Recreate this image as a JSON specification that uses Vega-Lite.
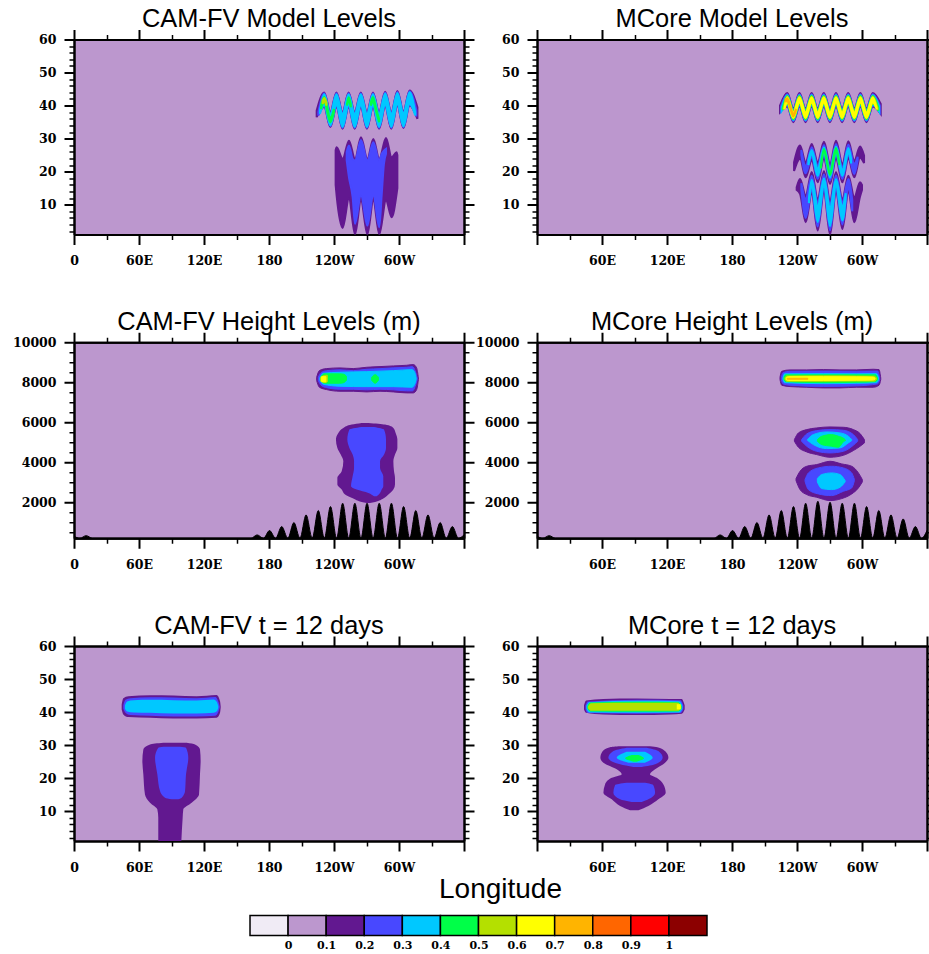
{"$schema":"https://vega.github.io/schema/vega-lite/v6.json","background":"white","padding":{"left":12,"top":6.5,"right":0,"bottom":0},"spacing":2,"resolve":{"scale":{"color":"independent"}},"config":{"view":{"fill":"#BC97CE","stroke":null},"font":"Liberation Sans","title":{"font":"Liberation Sans","fontSize":25.4,"fontWeight":"normal","color":"black","anchor":"middle","offset":-4},"axisBottom":{"labelPadding":10},"axis":{"grid":false,"title":null,"domainColor":"black","domainWidth":2,"tickColor":"black","labelColor":"black","labelFont":"DejaVu Serif","labelFontWeight":"bold","labelFontSize":12.5,"labelPadding":8,"labelOverlap":false,"labelFlush":false,"labelBound":false,"zindex":1}},
"datasets":{
"v":[
{"panel":"a","shape":"w","level":"0.1","lon":224,"lo":36.5,"hi":38.5},{"panel":"a","shape":"w","level":"0.1","lon":231,"lo":39.6,"hi":44},{"panel":"a","shape":"w","level":"0.1","lon":236.6,"lo":33.5,"hi":38},{"panel":"a","shape":"w","level":"0.1","lon":242.25,"lo":39.6,"hi":44},{"panel":"a","shape":"w","level":"0.1","lon":247.9,"lo":33,"hi":38},{"panel":"a","shape":"w","level":"0.1","lon":253.5,"lo":39.6,"hi":44},{"panel":"a","shape":"w","level":"0.1","lon":259.1,"lo":33,"hi":38},{"panel":"a","shape":"w","level":"0.1","lon":264.75,"lo":39.6,"hi":44},{"panel":"a","shape":"w","level":"0.1","lon":270.4,"lo":33,"hi":38},{"panel":"a","shape":"w","level":"0.1","lon":276,"lo":39.6,"hi":44},{"panel":"a","shape":"w","level":"0.1","lon":281.6,"lo":33,"hi":38},{"panel":"a","shape":"w","level":"0.1","lon":287.25,"lo":39.8,"hi":44.2},{"panel":"a","shape":"w","level":"0.1","lon":292.9,"lo":33,"hi":38},{"panel":"a","shape":"w","level":"0.1","lon":298.5,"lo":40,"hi":44.4},{"panel":"a","shape":"w","level":"0.1","lon":304.1,"lo":33.2,"hi":38.2},{"panel":"a","shape":"w","level":"0.1","lon":309.75,"lo":40,"hi":44.6},{"panel":"a","shape":"w","level":"0.1","lon":317,"lo":36,"hi":39.5},
{"panel":"a","shape":"s","level":"0.1","lon":241.5,"lo":16,"hi":26.5},{"panel":"a","shape":"s","level":"0.1","lon":242.4,"lo":12.8,"hi":27.4},{"panel":"a","shape":"s","level":"0.1","lon":248,"lo":3,"hi":23.9},{"panel":"a","shape":"s","level":"0.1","lon":253.8,"lo":11.8,"hi":29.4},{"panel":"a","shape":"s","level":"0.1","lon":259.4,"lo":1,"hi":23.9},{"panel":"a","shape":"s","level":"0.1","lon":264.9,"lo":11.3,"hi":30.4},{"panel":"a","shape":"s","level":"0.1","lon":270.8,"lo":1,"hi":23.9},{"panel":"a","shape":"s","level":"0.1","lon":276.3,"lo":11.3,"hi":29.9},{"panel":"a","shape":"s","level":"0.1","lon":281.8,"lo":1,"hi":23.9},{"panel":"a","shape":"s","level":"0.1","lon":288,"lo":11.3,"hi":30.2},{"panel":"a","shape":"s","level":"0.1","lon":293.2,"lo":6.2,"hi":24.4},{"panel":"a","shape":"s","level":"0.1","lon":297.8,"lo":13.3,"hi":25.9},{"panel":"a","shape":"s","level":"0.1","lon":298.5,"lo":15,"hi":25},
{"panel":"a","shape":"w","level":"0.2","lon":225.5,"lo":37,"hi":38},{"panel":"a","shape":"w","level":"0.2","lon":231,"lo":39.85,"hi":43.75},{"panel":"a","shape":"w","level":"0.2","lon":236.6,"lo":33.75,"hi":37.75},{"panel":"a","shape":"w","level":"0.2","lon":242.25,"lo":39.85,"hi":43.75},{"panel":"a","shape":"w","level":"0.2","lon":247.9,"lo":33.25,"hi":37.75},{"panel":"a","shape":"w","level":"0.2","lon":253.5,"lo":39.85,"hi":43.75},{"panel":"a","shape":"w","level":"0.2","lon":259.1,"lo":33.25,"hi":37.75},{"panel":"a","shape":"w","level":"0.2","lon":264.75,"lo":39.85,"hi":43.75},{"panel":"a","shape":"w","level":"0.2","lon":270.4,"lo":33.25,"hi":37.75},{"panel":"a","shape":"w","level":"0.2","lon":276,"lo":39.85,"hi":43.75},{"panel":"a","shape":"w","level":"0.2","lon":281.6,"lo":33.25,"hi":37.75},{"panel":"a","shape":"w","level":"0.2","lon":287.25,"lo":40.05,"hi":43.95},{"panel":"a","shape":"w","level":"0.2","lon":292.9,"lo":33.25,"hi":37.75},{"panel":"a","shape":"w","level":"0.2","lon":298.5,"lo":40.25,"hi":44.15},{"panel":"a","shape":"w","level":"0.2","lon":304.1,"lo":33.45,"hi":37.95},{"panel":"a","shape":"w","level":"0.2","lon":309.75,"lo":40.25,"hi":44.35},{"panel":"a","shape":"w","level":"0.2","lon":316,"lo":36.7,"hi":38.7},
{"panel":"a","shape":"s","level":"0.2","lon":251.7,"lo":23.4,"hi":25.9},{"panel":"a","shape":"s","level":"0.2","lon":253.8,"lo":18.3,"hi":27.9},{"panel":"a","shape":"s","level":"0.2","lon":257.2,"lo":12.3,"hi":23.9},{"panel":"a","shape":"s","level":"0.2","lon":259.4,"lo":4.2,"hi":23.4},{"panel":"a","shape":"s","level":"0.2","lon":264.9,"lo":12.8,"hi":29.6},{"panel":"a","shape":"s","level":"0.2","lon":270.8,"lo":3.7,"hi":23.4},{"panel":"a","shape":"s","level":"0.2","lon":276.3,"lo":12.8,"hi":28.9},{"panel":"a","shape":"s","level":"0.2","lon":281.8,"lo":3.2,"hi":23.4},{"panel":"a","shape":"s","level":"0.2","lon":284,"lo":12.8,"hi":25.4},{"panel":"a","shape":"s","level":"0.2","lon":286.1,"lo":22.4,"hi":26.4},{"panel":"a","shape":"s","level":"0.2","lon":288,"lo":25.4,"hi":26.9},
{"panel":"a","shape":"w","level":"0.3","lon":227,"lo":37.5,"hi":38.5},{"panel":"a","shape":"w","level":"0.3","lon":231,"lo":40.15,"hi":43.45},{"panel":"a","shape":"w","level":"0.3","lon":236.6,"lo":34.05,"hi":37.45},{"panel":"a","shape":"w","level":"0.3","lon":242.25,"lo":40.15,"hi":43.45},{"panel":"a","shape":"w","level":"0.3","lon":247.9,"lo":33.55,"hi":37.45},{"panel":"a","shape":"w","level":"0.3","lon":253.5,"lo":40.15,"hi":43.45},{"panel":"a","shape":"w","level":"0.3","lon":259.1,"lo":33.55,"hi":37.45},{"panel":"a","shape":"w","level":"0.3","lon":264.75,"lo":40.15,"hi":43.45},{"panel":"a","shape":"w","level":"0.3","lon":270.4,"lo":33.55,"hi":37.45},{"panel":"a","shape":"w","level":"0.3","lon":276,"lo":40.15,"hi":43.45},{"panel":"a","shape":"w","level":"0.3","lon":281.6,"lo":33.55,"hi":37.45},{"panel":"a","shape":"w","level":"0.3","lon":287.25,"lo":40.35,"hi":43.65},{"panel":"a","shape":"w","level":"0.3","lon":292.9,"lo":33.55,"hi":37.45},{"panel":"a","shape":"w","level":"0.3","lon":298.5,"lo":40.55,"hi":43.85},{"panel":"a","shape":"w","level":"0.3","lon":304.1,"lo":33.75,"hi":37.65},{"panel":"a","shape":"w","level":"0.3","lon":309.75,"lo":40.55,"hi":44.05},{"panel":"a","shape":"w","level":"0.3","lon":315,"lo":37,"hi":38},
{"panel":"a","shape":"g1","level":"0.4","lon":228,"lo":39,"hi":40},{"panel":"a","shape":"g1","level":"0.4","lon":231,"lo":41,"hi":42.6},{"panel":"a","shape":"g1","level":"0.4","lon":236.6,"lo":35,"hi":36.4},{"panel":"a","shape":"g1","level":"0.4","lon":240,"lo":38,"hi":39},{"panel":"a","shape":"g2","level":"0.4","lon":252,"lo":40,"hi":40.6},{"panel":"a","shape":"g2","level":"0.4","lon":253.5,"lo":41.5,"hi":42.5},{"panel":"a","shape":"g2","level":"0.4","lon":255.5,"lo":39.5,"hi":40.5},{"panel":"a","shape":"g3","level":"0.4","lon":274,"lo":40,"hi":41},{"panel":"a","shape":"g3","level":"0.4","lon":276,"lo":41.2,"hi":42.6},{"panel":"a","shape":"g3","level":"0.4","lon":279,"lo":38,"hi":39},{"panel":"a","shape":"g3","level":"0.4","lon":281.6,"lo":35,"hi":36},
{"panel":"a","shape":"y1","level":"0.5","lon":229.5,"lo":40.5,"hi":41.5},{"panel":"a","shape":"y1","level":"0.5","lon":231,"lo":41.3,"hi":42.3},{"panel":"a","shape":"y1","level":"0.5","lon":233,"lo":40,"hi":41},

{"panel":"b","shape":"w","level":"0.1","lon":224.3,"lo":38,"hi":40},{"panel":"b","shape":"w","level":"0.1","lon":231,"lo":39.7,"hi":43.8},{"panel":"b","shape":"w","level":"0.1","lon":236.6,"lo":35,"hi":39.2},{"panel":"b","shape":"w","level":"0.1","lon":242.25,"lo":39.7,"hi":43.8},{"panel":"b","shape":"w","level":"0.1","lon":247.9,"lo":35,"hi":39.2},{"panel":"b","shape":"w","level":"0.1","lon":253.5,"lo":39.7,"hi":43.8},{"panel":"b","shape":"w","level":"0.1","lon":259.1,"lo":35,"hi":39.2},{"panel":"b","shape":"w","level":"0.1","lon":264.75,"lo":39.7,"hi":43.8},{"panel":"b","shape":"w","level":"0.1","lon":270.4,"lo":35,"hi":39.2},{"panel":"b","shape":"w","level":"0.1","lon":276,"lo":39.7,"hi":43.8},{"panel":"b","shape":"w","level":"0.1","lon":281.6,"lo":35,"hi":39.2},{"panel":"b","shape":"w","level":"0.1","lon":287.25,"lo":39.7,"hi":43.8},{"panel":"b","shape":"w","level":"0.1","lon":292.9,"lo":35,"hi":39.2},{"panel":"b","shape":"w","level":"0.1","lon":298.5,"lo":39.7,"hi":43.8},{"panel":"b","shape":"w","level":"0.1","lon":304.1,"lo":35,"hi":39.2},{"panel":"b","shape":"w","level":"0.1","lon":310,"lo":39.7,"hi":43.8},{"panel":"b","shape":"w","level":"0.1","lon":317.3,"lo":37.5,"hi":40.5},
{"panel":"b","shape":"m2","level":"0.1","lon":237.3,"lo":20.2,"hi":22.9},{"panel":"b","shape":"m2","level":"0.1","lon":242.8,"lo":23.9,"hi":27.9},{"panel":"b","shape":"m2","level":"0.1","lon":248,"lo":18.3,"hi":22.9},{"panel":"b","shape":"m2","level":"0.1","lon":253.6,"lo":23.4,"hi":28.4},{"panel":"b","shape":"m2","level":"0.1","lon":259.1,"lo":16.8,"hi":22.9},{"panel":"b","shape":"m2","level":"0.1","lon":264.9,"lo":23.9,"hi":29.1},{"panel":"b","shape":"m2","level":"0.1","lon":270.5,"lo":16.3,"hi":22.4},{"panel":"b","shape":"m2","level":"0.1","lon":276,"lo":23.9,"hi":29.4},{"panel":"b","shape":"m2","level":"0.1","lon":281.9,"lo":16.8,"hi":22.4},{"panel":"b","shape":"m2","level":"0.1","lon":287.4,"lo":23.9,"hi":29.2},{"panel":"b","shape":"m2","level":"0.1","lon":292.9,"lo":18.3,"hi":23.4},{"panel":"b","shape":"m2","level":"0.1","lon":298.2,"lo":24.2,"hi":27.6},{"panel":"b","shape":"m2","level":"0.1","lon":301.9,"lo":22.6,"hi":24.9},
{"panel":"b","shape":"m3","level":"0.1","lon":239.7,"lo":14.5,"hi":15.3},{"panel":"b","shape":"m3","level":"0.1","lon":242.8,"lo":13.3,"hi":17.8},{"panel":"b","shape":"m3","level":"0.1","lon":248,"lo":4.7,"hi":12.8},{"panel":"b","shape":"m3","level":"0.1","lon":253.6,"lo":13.3,"hi":19.9},{"panel":"b","shape":"m3","level":"0.1","lon":259.1,"lo":2.2,"hi":11.8},{"panel":"b","shape":"m3","level":"0.1","lon":264.9,"lo":13.8,"hi":20.2},{"panel":"b","shape":"m3","level":"0.1","lon":270.5,"lo":1,"hi":11.3},{"panel":"b","shape":"m3","level":"0.1","lon":276,"lo":13.8,"hi":19.9},{"panel":"b","shape":"m3","level":"0.1","lon":281.9,"lo":2.7,"hi":11.8},{"panel":"b","shape":"m3","level":"0.1","lon":287.4,"lo":13.8,"hi":18.8},{"panel":"b","shape":"m3","level":"0.1","lon":292.9,"lo":4.7,"hi":12.3},{"panel":"b","shape":"m3","level":"0.1","lon":298.2,"lo":12.5,"hi":16.8},{"panel":"b","shape":"m3","level":"0.1","lon":300,"lo":14.5,"hi":16},
{"panel":"b","shape":"w","level":"0.2","lon":225.2,"lo":38.3,"hi":39.7},{"panel":"b","shape":"w","level":"0.2","lon":231,"lo":40.05,"hi":43.45},{"panel":"b","shape":"w","level":"0.2","lon":236.6,"lo":35.35,"hi":38.85},{"panel":"b","shape":"w","level":"0.2","lon":242.25,"lo":40.05,"hi":43.45},{"panel":"b","shape":"w","level":"0.2","lon":247.9,"lo":35.35,"hi":38.85},{"panel":"b","shape":"w","level":"0.2","lon":253.5,"lo":40.05,"hi":43.45},{"panel":"b","shape":"w","level":"0.2","lon":259.1,"lo":35.35,"hi":38.85},{"panel":"b","shape":"w","level":"0.2","lon":264.75,"lo":40.05,"hi":43.45},{"panel":"b","shape":"w","level":"0.2","lon":270.4,"lo":35.35,"hi":38.85},{"panel":"b","shape":"w","level":"0.2","lon":276,"lo":40.05,"hi":43.45},{"panel":"b","shape":"w","level":"0.2","lon":281.6,"lo":35.35,"hi":38.85},{"panel":"b","shape":"w","level":"0.2","lon":287.25,"lo":40.05,"hi":43.45},{"panel":"b","shape":"w","level":"0.2","lon":292.9,"lo":35.35,"hi":38.85},{"panel":"b","shape":"w","level":"0.2","lon":298.5,"lo":40.05,"hi":43.45},{"panel":"b","shape":"w","level":"0.2","lon":304.1,"lo":35.35,"hi":38.85},{"panel":"b","shape":"w","level":"0.2","lon":310,"lo":40.05,"hi":43.45},{"panel":"b","shape":"w","level":"0.2","lon":316.5,"lo":38,"hi":40},
{"panel":"b","shape":"m2","level":"0.2","lon":244,"lo":25,"hi":26.6},{"panel":"b","shape":"m2","level":"0.2","lon":248,"lo":19.5,"hi":21.8},{"panel":"b","shape":"m2","level":"0.2","lon":253.6,"lo":24.4,"hi":27.4},{"panel":"b","shape":"m2","level":"0.2","lon":259.1,"lo":17.8,"hi":21.9},{"panel":"b","shape":"m2","level":"0.2","lon":264.9,"lo":24.9,"hi":28.1},{"panel":"b","shape":"m2","level":"0.2","lon":270.5,"lo":17.3,"hi":21.4},{"panel":"b","shape":"m2","level":"0.2","lon":276,"lo":24.9,"hi":28.4},{"panel":"b","shape":"m2","level":"0.2","lon":281.9,"lo":17.8,"hi":21.4},{"panel":"b","shape":"m2","level":"0.2","lon":287.4,"lo":24.9,"hi":28.2},{"panel":"b","shape":"m2","level":"0.2","lon":292.9,"lo":19.3,"hi":22.4},{"panel":"b","shape":"m2","level":"0.2","lon":296,"lo":23.5,"hi":24.5},
{"panel":"b","shape":"m3","level":"0.2","lon":244,"lo":14.5,"hi":16.5},{"panel":"b","shape":"m3","level":"0.2","lon":248,"lo":6,"hi":11.8},{"panel":"b","shape":"m3","level":"0.2","lon":253.6,"lo":14.3,"hi":18.8},{"panel":"b","shape":"m3","level":"0.2","lon":259.1,"lo":3.4,"hi":10.8},{"panel":"b","shape":"m3","level":"0.2","lon":264.9,"lo":14.8,"hi":19.2},{"panel":"b","shape":"m3","level":"0.2","lon":270.5,"lo":2.3,"hi":10.3},{"panel":"b","shape":"m3","level":"0.2","lon":276,"lo":14.8,"hi":18.9},{"panel":"b","shape":"m3","level":"0.2","lon":281.9,"lo":4,"hi":10.8},{"panel":"b","shape":"m3","level":"0.2","lon":287.4,"lo":14.8,"hi":17.8},{"panel":"b","shape":"m3","level":"0.2","lon":291,"lo":8,"hi":11.5},
{"panel":"b","shape":"w","level":"0.3","lon":226,"lo":38.5,"hi":39.5},{"panel":"b","shape":"w","level":"0.3","lon":231,"lo":40.35,"hi":43.15},{"panel":"b","shape":"w","level":"0.3","lon":236.6,"lo":35.65,"hi":38.55},{"panel":"b","shape":"w","level":"0.3","lon":242.25,"lo":40.35,"hi":43.15},{"panel":"b","shape":"w","level":"0.3","lon":247.9,"lo":35.65,"hi":38.55},{"panel":"b","shape":"w","level":"0.3","lon":253.5,"lo":40.35,"hi":43.15},{"panel":"b","shape":"w","level":"0.3","lon":259.1,"lo":35.65,"hi":38.55},{"panel":"b","shape":"w","level":"0.3","lon":264.75,"lo":40.35,"hi":43.15},{"panel":"b","shape":"w","level":"0.3","lon":270.4,"lo":35.65,"hi":38.55},{"panel":"b","shape":"w","level":"0.3","lon":276,"lo":40.35,"hi":43.15},{"panel":"b","shape":"w","level":"0.3","lon":281.6,"lo":35.65,"hi":38.55},{"panel":"b","shape":"w","level":"0.3","lon":287.25,"lo":40.35,"hi":43.15},{"panel":"b","shape":"w","level":"0.3","lon":292.9,"lo":35.65,"hi":38.55},{"panel":"b","shape":"w","level":"0.3","lon":298.5,"lo":40.35,"hi":43.15},{"panel":"b","shape":"w","level":"0.3","lon":304.1,"lo":35.65,"hi":38.55},{"panel":"b","shape":"w","level":"0.3","lon":310,"lo":40.35,"hi":43.15},{"panel":"b","shape":"w","level":"0.3","lon":315.8,"lo":38.2,"hi":39.8},
{"panel":"b","shape":"m2","level":"0.3","lon":250.5,"lo":22,"hi":23.5},{"panel":"b","shape":"m2","level":"0.3","lon":253.6,"lo":25.2,"hi":26.6},{"panel":"b","shape":"m2","level":"0.3","lon":259.1,"lo":18.7,"hi":21},{"panel":"b","shape":"m2","level":"0.3","lon":264.9,"lo":25.6,"hi":27.4},{"panel":"b","shape":"m2","level":"0.3","lon":270.5,"lo":18.2,"hi":20.6},{"panel":"b","shape":"m2","level":"0.3","lon":276,"lo":25.6,"hi":27.6},{"panel":"b","shape":"m2","level":"0.3","lon":281.9,"lo":18.7,"hi":20.6},{"panel":"b","shape":"m2","level":"0.3","lon":287.4,"lo":25.6,"hi":27.2},{"panel":"b","shape":"m2","level":"0.3","lon":290,"lo":22.5,"hi":24},
{"panel":"b","shape":"m3","level":"0.3","lon":251,"lo":10.5,"hi":12},{"panel":"b","shape":"m3","level":"0.3","lon":253.6,"lo":15.3,"hi":17.6},{"panel":"b","shape":"m3","level":"0.3","lon":259.1,"lo":4.8,"hi":9.6},{"panel":"b","shape":"m3","level":"0.3","lon":264.9,"lo":15.6,"hi":18},{"panel":"b","shape":"m3","level":"0.3","lon":270.5,"lo":3.5,"hi":9.2},{"panel":"b","shape":"m3","level":"0.3","lon":276,"lo":15.6,"hi":17.8},{"panel":"b","shape":"m3","level":"0.3","lon":281.9,"lo":5.2,"hi":9.6},{"panel":"b","shape":"m3","level":"0.3","lon":285,"lo":12,"hi":13.5},
{"panel":"b","shape":"w","level":"0.4","lon":226.8,"lo":38.7,"hi":39.3},{"panel":"b","shape":"w","level":"0.4","lon":231,"lo":40.6,"hi":42.9},{"panel":"b","shape":"w","level":"0.4","lon":236.6,"lo":35.9,"hi":38.3},{"panel":"b","shape":"w","level":"0.4","lon":242.25,"lo":40.6,"hi":42.9},{"panel":"b","shape":"w","level":"0.4","lon":247.9,"lo":35.9,"hi":38.3},{"panel":"b","shape":"w","level":"0.4","lon":253.5,"lo":40.6,"hi":42.9},{"panel":"b","shape":"w","level":"0.4","lon":259.1,"lo":35.9,"hi":38.3},{"panel":"b","shape":"w","level":"0.4","lon":264.75,"lo":40.6,"hi":42.9},{"panel":"b","shape":"w","level":"0.4","lon":270.4,"lo":35.9,"hi":38.3},{"panel":"b","shape":"w","level":"0.4","lon":276,"lo":40.6,"hi":42.9},{"panel":"b","shape":"w","level":"0.4","lon":281.6,"lo":35.9,"hi":38.3},{"panel":"b","shape":"w","level":"0.4","lon":287.25,"lo":40.6,"hi":42.9},{"panel":"b","shape":"w","level":"0.4","lon":292.9,"lo":35.9,"hi":38.3},{"panel":"b","shape":"w","level":"0.4","lon":298.5,"lo":40.6,"hi":42.9},{"panel":"b","shape":"w","level":"0.4","lon":304.1,"lo":35.9,"hi":38.3},{"panel":"b","shape":"w","level":"0.4","lon":310,"lo":40.6,"hi":42.9},{"panel":"b","shape":"w","level":"0.4","lon":315,"lo":38.5,"hi":39.5},
{"panel":"b","shape":"m2","level":"0.4","lon":262,"lo":21,"hi":22},{"panel":"b","shape":"m2","level":"0.4","lon":264.9,"lo":25.9,"hi":26.9},{"panel":"b","shape":"m2","level":"0.4","lon":270.5,"lo":19,"hi":20},{"panel":"b","shape":"m2","level":"0.4","lon":276,"lo":25.9,"hi":27.2},{"panel":"b","shape":"m2","level":"0.4","lon":279,"lo":22,"hi":23},
{"panel":"b","shape":"w","level":"0.5","lon":227.6,"lo":38.8,"hi":39.2},{"panel":"b","shape":"w","level":"0.5","lon":231,"lo":40.85,"hi":42.65},{"panel":"b","shape":"w","level":"0.5","lon":236.6,"lo":36.15,"hi":38.05},{"panel":"b","shape":"w","level":"0.5","lon":242.25,"lo":40.85,"hi":42.65},{"panel":"b","shape":"w","level":"0.5","lon":247.9,"lo":36.15,"hi":38.05},{"panel":"b","shape":"w","level":"0.5","lon":253.5,"lo":40.85,"hi":42.65},{"panel":"b","shape":"w","level":"0.5","lon":259.1,"lo":36.15,"hi":38.05},{"panel":"b","shape":"w","level":"0.5","lon":264.75,"lo":40.85,"hi":42.65},{"panel":"b","shape":"w","level":"0.5","lon":270.4,"lo":36.15,"hi":38.05},{"panel":"b","shape":"w","level":"0.5","lon":276,"lo":40.85,"hi":42.65},{"panel":"b","shape":"w","level":"0.5","lon":281.6,"lo":36.15,"hi":38.05},{"panel":"b","shape":"w","level":"0.5","lon":287.25,"lo":40.85,"hi":42.65},{"panel":"b","shape":"w","level":"0.5","lon":292.9,"lo":36.15,"hi":38.05},{"panel":"b","shape":"w","level":"0.5","lon":298.5,"lo":40.85,"hi":42.65},{"panel":"b","shape":"w","level":"0.5","lon":304.1,"lo":36.15,"hi":38.05},{"panel":"b","shape":"w","level":"0.5","lon":310,"lo":40.85,"hi":42.65},{"panel":"b","shape":"w","level":"0.5","lon":314.3,"lo":38.7,"hi":39.3},
{"panel":"b","shape":"w","level":"0.6","lon":228.4,"lo":39,"hi":39.1},{"panel":"b","shape":"w","level":"0.6","lon":231,"lo":41.05,"hi":42.45},{"panel":"b","shape":"w","level":"0.6","lon":236.6,"lo":36.35,"hi":37.85},{"panel":"b","shape":"w","level":"0.6","lon":242.25,"lo":41.05,"hi":42.45},{"panel":"b","shape":"w","level":"0.6","lon":247.9,"lo":36.35,"hi":37.85},{"panel":"b","shape":"w","level":"0.6","lon":253.5,"lo":41.05,"hi":42.45},{"panel":"b","shape":"w","level":"0.6","lon":259.1,"lo":36.35,"hi":37.85},{"panel":"b","shape":"w","level":"0.6","lon":264.75,"lo":41.05,"hi":42.45},{"panel":"b","shape":"w","level":"0.6","lon":270.4,"lo":36.35,"hi":37.85},{"panel":"b","shape":"w","level":"0.6","lon":276,"lo":41.05,"hi":42.45},{"panel":"b","shape":"w","level":"0.6","lon":281.6,"lo":36.35,"hi":37.85},{"panel":"b","shape":"w","level":"0.6","lon":287.25,"lo":41.05,"hi":42.45},{"panel":"b","shape":"w","level":"0.6","lon":292.9,"lo":36.35,"hi":37.85},{"panel":"b","shape":"w","level":"0.6","lon":298.5,"lo":41.05,"hi":42.45},{"panel":"b","shape":"w","level":"0.6","lon":304.1,"lo":36.35,"hi":37.85},{"panel":"b","shape":"w","level":"0.6","lon":310,"lo":41.05,"hi":42.45},{"panel":"b","shape":"w","level":"0.6","lon":313.6,"lo":38.9,"hi":39.1},
{"panel":"b","shape":"o","level":"0.7","lon":229.5,"lo":41.3,"hi":42},{"panel":"b","shape":"o","level":"0.7","lon":231,"lo":41.4,"hi":42.2},{"panel":"b","shape":"o","level":"0.7","lon":233.5,"lo":39.5,"hi":40.2},{"panel":"b","shape":"o","level":"0.7","lon":236.6,"lo":36.7,"hi":37.4},{"panel":"b","shape":"o","level":"0.7","lon":239,"lo":38.5,"hi":39},

{"panel":"c","shape":"t","level":"terrain","lon":0,"lo":200,"hi":300},{"panel":"c","shape":"t","level":"terrain","lon":5.5,"lo":200,"hi":200},{"panel":"c","shape":"t","level":"terrain","lon":11.25,"lo":200,"hi":330},{"panel":"c","shape":"t","level":"terrain","lon":17,"lo":200,"hi":200},{"panel":"c","shape":"t","level":"terrain","lon":163.5,"lo":200,"hi":200},{"panel":"c","shape":"t","level":"terrain","lon":169,"lo":200,"hi":367},{"panel":"c","shape":"t","level":"terrain","lon":174.9,"lo":200,"hi":200},{"panel":"c","shape":"t","level":"terrain","lon":180.5,"lo":200,"hi":583},{"panel":"c","shape":"t","level":"terrain","lon":186.1,"lo":200,"hi":200},{"panel":"c","shape":"t","level":"terrain","lon":191.75,"lo":200,"hi":783},{"panel":"c","shape":"t","level":"terrain","lon":197.4,"lo":200,"hi":200},{"panel":"c","shape":"t","level":"terrain","lon":203,"lo":200,"hi":983},{"panel":"c","shape":"t","level":"terrain","lon":208.6,"lo":200,"hi":200},{"panel":"c","shape":"t","level":"terrain","lon":214.25,"lo":200,"hi":1367},{"panel":"c","shape":"t","level":"terrain","lon":219.9,"lo":200,"hi":200},{"panel":"c","shape":"t","level":"terrain","lon":225.5,"lo":200,"hi":1583},{"panel":"c","shape":"t","level":"terrain","lon":231.1,"lo":200,"hi":200},{"panel":"c","shape":"t","level":"terrain","lon":236.75,"lo":200,"hi":1783},{"panel":"c","shape":"t","level":"terrain","lon":242.4,"lo":200,"hi":200},{"panel":"c","shape":"t","level":"terrain","lon":248,"lo":200,"hi":1950},{"panel":"c","shape":"t","level":"terrain","lon":253.6,"lo":200,"hi":200},{"panel":"c","shape":"t","level":"terrain","lon":259.25,"lo":200,"hi":1950},{"panel":"c","shape":"t","level":"terrain","lon":264.9,"lo":200,"hi":200},{"panel":"c","shape":"t","level":"terrain","lon":270.5,"lo":200,"hi":1950},{"panel":"c","shape":"t","level":"terrain","lon":276.1,"lo":200,"hi":200},{"panel":"c","shape":"t","level":"terrain","lon":281.75,"lo":200,"hi":1950},{"panel":"c","shape":"t","level":"terrain","lon":287.4,"lo":200,"hi":200},{"panel":"c","shape":"t","level":"terrain","lon":293,"lo":200,"hi":1950},{"panel":"c","shape":"t","level":"terrain","lon":298.6,"lo":200,"hi":200},{"panel":"c","shape":"t","level":"terrain","lon":304.25,"lo":200,"hi":1783},{"panel":"c","shape":"t","level":"terrain","lon":309.9,"lo":200,"hi":200},{"panel":"c","shape":"t","level":"terrain","lon":315.5,"lo":200,"hi":1583},{"panel":"c","shape":"t","level":"terrain","lon":321.1,"lo":200,"hi":200},{"panel":"c","shape":"t","level":"terrain","lon":326.75,"lo":200,"hi":1367},{"panel":"c","shape":"t","level":"terrain","lon":332.4,"lo":200,"hi":200},{"panel":"c","shape":"t","level":"terrain","lon":338,"lo":200,"hi":983},{"panel":"c","shape":"t","level":"terrain","lon":343.6,"lo":200,"hi":200},{"panel":"c","shape":"t","level":"terrain","lon":349.25,"lo":200,"hi":783},{"panel":"c","shape":"t","level":"terrain","lon":354.9,"lo":200,"hi":200},{"panel":"c","shape":"t","level":"terrain","lon":360,"lo":200,"hi":367},
{"panel":"c","shape":"bar","level":"0.1","lon":224,"lo":8083,"hi":8250},{"panel":"c","shape":"bar","level":"0.1","lon":226.5,"lo":7750,"hi":8583},{"panel":"c","shape":"bar","level":"0.1","lon":233.2,"lo":7633,"hi":8683},{"panel":"c","shape":"bar","level":"0.1","lon":245.5,"lo":7550,"hi":8717},{"panel":"c","shape":"bar","level":"0.1","lon":257.8,"lo":7550,"hi":8683},{"panel":"c","shape":"bar","level":"0.1","lon":270.2,"lo":7517,"hi":8750},{"panel":"c","shape":"bar","level":"0.1","lon":282.5,"lo":7550,"hi":8783},{"panel":"c","shape":"bar","level":"0.1","lon":294.8,"lo":7517,"hi":8817},{"panel":"c","shape":"bar","level":"0.1","lon":307.1,"lo":7467,"hi":8850},{"panel":"c","shape":"bar","level":"0.1","lon":313.2,"lo":7467,"hi":8883},{"panel":"c","shape":"bar","level":"0.1","lon":316.3,"lo":7633,"hi":8717},{"panel":"c","shape":"bar","level":"0.1","lon":317.9,"lo":8133,"hi":8217},
{"panel":"c","shape":"bar","level":"0.2","lon":225.5,"lo":8083,"hi":8250},{"panel":"c","shape":"bar","level":"0.2","lon":228,"lo":7850,"hi":8480},{"panel":"c","shape":"bar","level":"0.2","lon":233.2,"lo":7730,"hi":8580},{"panel":"c","shape":"bar","level":"0.2","lon":245.5,"lo":7650,"hi":8620},{"panel":"c","shape":"bar","level":"0.2","lon":257.8,"lo":7650,"hi":8580},{"panel":"c","shape":"bar","level":"0.2","lon":270.2,"lo":7620,"hi":8650},{"panel":"c","shape":"bar","level":"0.2","lon":282.5,"lo":7650,"hi":8680},{"panel":"c","shape":"bar","level":"0.2","lon":294.8,"lo":7620,"hi":8720},{"panel":"c","shape":"bar","level":"0.2","lon":307.1,"lo":7570,"hi":8750},{"panel":"c","shape":"bar","level":"0.2","lon":312.5,"lo":7570,"hi":8780},{"panel":"c","shape":"bar","level":"0.2","lon":315,"lo":7800,"hi":8560},{"panel":"c","shape":"bar","level":"0.2","lon":316.8,"lo":8130,"hi":8220},
{"panel":"c","shape":"bar","level":"0.3","lon":227,"lo":8100,"hi":8230},{"panel":"c","shape":"bar","level":"0.3","lon":230,"lo":7900,"hi":8450},{"panel":"c","shape":"bar","level":"0.3","lon":245.5,"lo":7800,"hi":8500},{"panel":"c","shape":"bar","level":"0.3","lon":270.2,"lo":7780,"hi":8530},{"panel":"c","shape":"bar","level":"0.3","lon":294.8,"lo":7780,"hi":8580},{"panel":"c","shape":"bar","level":"0.3","lon":312,"lo":7750,"hi":8630},{"panel":"c","shape":"bar","level":"0.3","lon":314.5,"lo":7900,"hi":8500},{"panel":"c","shape":"bar","level":"0.3","lon":315.8,"lo":8130,"hi":8220},
{"panel":"c","shape":"g1","level":"0.4","lon":227.5,"lo":8100,"hi":8230},{"panel":"c","shape":"g1","level":"0.4","lon":231,"lo":7950,"hi":8420},{"panel":"c","shape":"g1","level":"0.4","lon":245,"lo":7950,"hi":8420},{"panel":"c","shape":"g1","level":"0.4","lon":249,"lo":7980,"hi":8400},{"panel":"c","shape":"g1","level":"0.4","lon":251.5,"lo":8100,"hi":8300},{"panel":"c","shape":"g2","level":"0.4","lon":274.8,"lo":8100,"hi":8250},{"panel":"c","shape":"g2","level":"0.4","lon":278,"lo":7950,"hi":8380},{"panel":"c","shape":"g2","level":"0.4","lon":281,"lo":8100,"hi":8250},
{"panel":"c","shape":"y","level":"0.5","lon":227.8,"lo":8050,"hi":8250},{"panel":"c","shape":"y","level":"0.5","lon":232,"lo":7980,"hi":8350},{"panel":"c","shape":"y","level":"0.5","lon":233.8,"lo":8020,"hi":8350},
{"panel":"c","shape":"y2","level":"0.6","lon":228.6,"lo":8030,"hi":8280},{"panel":"c","shape":"y2","level":"0.6","lon":232.5,"lo":8020,"hi":8280},

{"panel":"d","shape":"t","level":"terrain","lon":0,"lo":200,"hi":300},{"panel":"d","shape":"t","level":"terrain","lon":5.5,"lo":200,"hi":200},{"panel":"d","shape":"t","level":"terrain","lon":11.25,"lo":200,"hi":330},{"panel":"d","shape":"t","level":"terrain","lon":17,"lo":200,"hi":200},{"panel":"d","shape":"t","level":"terrain","lon":163.5,"lo":200,"hi":200},{"panel":"d","shape":"t","level":"terrain","lon":169,"lo":200,"hi":367},{"panel":"d","shape":"t","level":"terrain","lon":174.9,"lo":200,"hi":200},{"panel":"d","shape":"t","level":"terrain","lon":180.5,"lo":200,"hi":583},{"panel":"d","shape":"t","level":"terrain","lon":186.1,"lo":200,"hi":200},{"panel":"d","shape":"t","level":"terrain","lon":191.75,"lo":200,"hi":783},{"panel":"d","shape":"t","level":"terrain","lon":197.4,"lo":200,"hi":200},{"panel":"d","shape":"t","level":"terrain","lon":203,"lo":200,"hi":983},{"panel":"d","shape":"t","level":"terrain","lon":208.6,"lo":200,"hi":200},{"panel":"d","shape":"t","level":"terrain","lon":214.25,"lo":200,"hi":1367},{"panel":"d","shape":"t","level":"terrain","lon":219.9,"lo":200,"hi":200},{"panel":"d","shape":"t","level":"terrain","lon":225.5,"lo":200,"hi":1583},{"panel":"d","shape":"t","level":"terrain","lon":231.1,"lo":200,"hi":200},{"panel":"d","shape":"t","level":"terrain","lon":236.75,"lo":200,"hi":1783},{"panel":"d","shape":"t","level":"terrain","lon":242.4,"lo":200,"hi":200},{"panel":"d","shape":"t","level":"terrain","lon":248,"lo":200,"hi":1950},{"panel":"d","shape":"t","level":"terrain","lon":253.6,"lo":200,"hi":200},{"panel":"d","shape":"t","level":"terrain","lon":259.25,"lo":200,"hi":2050},{"panel":"d","shape":"t","level":"terrain","lon":264.9,"lo":200,"hi":200},{"panel":"d","shape":"t","level":"terrain","lon":270.5,"lo":200,"hi":2000},{"panel":"d","shape":"t","level":"terrain","lon":276.1,"lo":200,"hi":200},{"panel":"d","shape":"t","level":"terrain","lon":281.75,"lo":200,"hi":1950},{"panel":"d","shape":"t","level":"terrain","lon":287.4,"lo":200,"hi":200},{"panel":"d","shape":"t","level":"terrain","lon":293,"lo":200,"hi":1950},{"panel":"d","shape":"t","level":"terrain","lon":298.6,"lo":200,"hi":200},{"panel":"d","shape":"t","level":"terrain","lon":304.25,"lo":200,"hi":1783},{"panel":"d","shape":"t","level":"terrain","lon":309.9,"lo":200,"hi":200},{"panel":"d","shape":"t","level":"terrain","lon":315.5,"lo":200,"hi":1583},{"panel":"d","shape":"t","level":"terrain","lon":321.1,"lo":200,"hi":200},{"panel":"d","shape":"t","level":"terrain","lon":326.75,"lo":200,"hi":1367},{"panel":"d","shape":"t","level":"terrain","lon":332.4,"lo":200,"hi":200},{"panel":"d","shape":"t","level":"terrain","lon":338,"lo":200,"hi":1167},{"panel":"d","shape":"t","level":"terrain","lon":343.6,"lo":200,"hi":200},{"panel":"d","shape":"t","level":"terrain","lon":349.25,"lo":200,"hi":783},{"panel":"d","shape":"t","level":"terrain","lon":354.9,"lo":200,"hi":200},{"panel":"d","shape":"t","level":"terrain","lon":360,"lo":200,"hi":583},
{"panel":"d","shape":"bar","level":"0.1","lon":224.3,"lo":8133,"hi":8250},{"panel":"d","shape":"bar","level":"0.1","lon":225.9,"lo":7850,"hi":8550},{"panel":"d","shape":"bar","level":"0.1","lon":233.6,"lo":7783,"hi":8617},{"panel":"d","shape":"bar","level":"0.1","lon":249,"lo":7750,"hi":8617},{"panel":"d","shape":"bar","level":"0.1","lon":264.4,"lo":7717,"hi":8633},{"panel":"d","shape":"bar","level":"0.1","lon":279.7,"lo":7717,"hi":8617},{"panel":"d","shape":"bar","level":"0.1","lon":295.1,"lo":7750,"hi":8617},{"panel":"d","shape":"bar","level":"0.1","lon":310.5,"lo":7750,"hi":8650},{"panel":"d","shape":"bar","level":"0.1","lon":315.7,"lo":7850,"hi":8633},{"panel":"d","shape":"bar","level":"0.1","lon":317.3,"lo":8133,"hi":8217},
{"panel":"d","shape":"m","level":"0.1","lon":237.6,"lo":5049,"hi":5133},{"panel":"d","shape":"m","level":"0.1","lon":241.3,"lo":4749,"hi":5466},{"panel":"d","shape":"m","level":"0.1","lon":249,"lo":4516,"hi":5633},{"panel":"d","shape":"m","level":"0.1","lon":258.2,"lo":4383,"hi":5716},{"panel":"d","shape":"m","level":"0.1","lon":270.5,"lo":4249,"hi":5766},{"panel":"d","shape":"m","level":"0.1","lon":282.8,"lo":4349,"hi":5749},{"panel":"d","shape":"m","level":"0.1","lon":292,"lo":4583,"hi":5633},{"panel":"d","shape":"m","level":"0.1","lon":298.2,"lo":4799,"hi":5433},{"panel":"d","shape":"m","level":"0.1","lon":302.2,"lo":4966,"hi":5133},
{"panel":"d","shape":"l","level":"0.1","lon":239.1,"lo":3083,"hi":3183},{"panel":"d","shape":"l","level":"0.1","lon":242.8,"lo":2632,"hi":3549},{"panel":"d","shape":"l","level":"0.1","lon":249,"lo":2383,"hi":3799},{"panel":"d","shape":"l","level":"0.1","lon":258.2,"lo":2249,"hi":3883},{"panel":"d","shape":"l","level":"0.1","lon":270.5,"lo":2083,"hi":4049},{"panel":"d","shape":"l","level":"0.1","lon":281.3,"lo":2183,"hi":3916},{"panel":"d","shape":"l","level":"0.1","lon":290.5,"lo":2416,"hi":3799},{"panel":"d","shape":"l","level":"0.1","lon":296.7,"lo":2716,"hi":3466},{"panel":"d","shape":"l","level":"0.1","lon":300.3,"lo":3016,"hi":3133},
{"panel":"d","shape":"bar","level":"0.2","lon":225.5,"lo":8130,"hi":8230},{"panel":"d","shape":"bar","level":"0.2","lon":227,"lo":7920,"hi":8480},{"panel":"d","shape":"bar","level":"0.2","lon":233.6,"lo":7850,"hi":8550},{"panel":"d","shape":"bar","level":"0.2","lon":264.4,"lo":7790,"hi":8560},{"panel":"d","shape":"bar","level":"0.2","lon":295.1,"lo":7820,"hi":8550},{"panel":"d","shape":"bar","level":"0.2","lon":314.5,"lo":7920,"hi":8560},{"panel":"d","shape":"bar","level":"0.2","lon":316.3,"lo":8130,"hi":8220},
{"panel":"d","shape":"m","level":"0.2","lon":244.3,"lo":5049,"hi":5133},{"panel":"d","shape":"m","level":"0.2","lon":249,"lo":4799,"hi":5416},{"panel":"d","shape":"m","level":"0.2","lon":258.2,"lo":4549,"hi":5583},{"panel":"d","shape":"m","level":"0.2","lon":270.5,"lo":4466,"hi":5633},{"panel":"d","shape":"m","level":"0.2","lon":282.8,"lo":4549,"hi":5599},{"panel":"d","shape":"m","level":"0.2","lon":292,"lo":4849,"hi":5383},{"panel":"d","shape":"m","level":"0.2","lon":296,"lo":5049,"hi":5133},
{"panel":"d","shape":"l","level":"0.2","lon":247.4,"lo":3049,"hi":3133},{"panel":"d","shape":"l","level":"0.2","lon":250.5,"lo":2632,"hi":3466},{"panel":"d","shape":"l","level":"0.2","lon":259.7,"lo":2416,"hi":3716},{"panel":"d","shape":"l","level":"0.2","lon":272,"lo":2333,"hi":3799},{"panel":"d","shape":"l","level":"0.2","lon":282.8,"lo":2549,"hi":3716},{"panel":"d","shape":"l","level":"0.2","lon":290.5,"lo":2716,"hi":3466},{"panel":"d","shape":"l","level":"0.2","lon":293,"lo":3083,"hi":3133},
{"panel":"d","shape":"bar","level":"0.3","lon":227,"lo":8130,"hi":8230},{"panel":"d","shape":"bar","level":"0.3","lon":228.5,"lo":7980,"hi":8420},{"panel":"d","shape":"bar","level":"0.3","lon":264.4,"lo":7930,"hi":8430},{"panel":"d","shape":"bar","level":"0.3","lon":295.1,"lo":7950,"hi":8420},{"panel":"d","shape":"bar","level":"0.3","lon":313.5,"lo":7980,"hi":8430},{"panel":"d","shape":"bar","level":"0.3","lon":315.3,"lo":8130,"hi":8220},
{"panel":"d","shape":"m","level":"0.3","lon":249.6,"lo":5099,"hi":5133},{"panel":"d","shape":"m","level":"0.3","lon":255.1,"lo":4883,"hi":5383},{"panel":"d","shape":"m","level":"0.3","lon":267.4,"lo":4683,"hi":5516},{"panel":"d","shape":"m","level":"0.3","lon":279.7,"lo":4716,"hi":5466},{"panel":"d","shape":"m","level":"0.3","lon":287.4,"lo":4966,"hi":5299},{"panel":"d","shape":"m","level":"0.3","lon":290.5,"lo":5083,"hi":5133},
{"panel":"d","shape":"l","level":"0.3","lon":258.8,"lo":3016,"hi":3183},{"panel":"d","shape":"l","level":"0.3","lon":262.8,"lo":2683,"hi":3383},{"panel":"d","shape":"l","level":"0.3","lon":272,"lo":2632,"hi":3466},{"panel":"d","shape":"l","level":"0.3","lon":279.7,"lo":2749,"hi":3383},{"panel":"d","shape":"l","level":"0.3","lon":284.4,"lo":3016,"hi":3083},
{"panel":"d","shape":"bar","level":"0.4","lon":228,"lo":8130,"hi":8230},{"panel":"d","shape":"bar","level":"0.4","lon":229.5,"lo":8030,"hi":8370},{"panel":"d","shape":"bar","level":"0.4","lon":264.4,"lo":7980,"hi":8370},{"panel":"d","shape":"bar","level":"0.4","lon":295.1,"lo":8000,"hi":8370},{"panel":"d","shape":"bar","level":"0.4","lon":312.5,"lo":8030,"hi":8370},{"panel":"d","shape":"bar","level":"0.4","lon":314.3,"lo":8130,"hi":8220},
{"panel":"d","shape":"m","level":"0.4","lon":258.8,"lo":5049,"hi":5133},{"panel":"d","shape":"m","level":"0.4","lon":262.8,"lo":4883,"hi":5299},{"panel":"d","shape":"m","level":"0.4","lon":272,"lo":4799,"hi":5383},{"panel":"d","shape":"m","level":"0.4","lon":278.2,"lo":4749,"hi":5299},{"panel":"d","shape":"m","level":"0.4","lon":283.4,"lo":5049,"hi":5183},{"panel":"d","shape":"m","level":"0.4","lon":284.7,"lo":5083,"hi":5116},
{"panel":"d","shape":"bar","level":"0.5","lon":229,"lo":8130,"hi":8230},{"panel":"d","shape":"bar","level":"0.5","lon":230.5,"lo":8050,"hi":8310},{"panel":"d","shape":"bar","level":"0.5","lon":264.4,"lo":8050,"hi":8320},{"panel":"d","shape":"bar","level":"0.5","lon":295.1,"lo":8060,"hi":8310},{"panel":"d","shape":"bar","level":"0.5","lon":311.5,"lo":8060,"hi":8300},{"panel":"d","shape":"bar","level":"0.5","lon":313.3,"lo":8130,"hi":8220},
{"panel":"d","shape":"bar","level":"0.6","lon":230,"lo":8130,"hi":8230},{"panel":"d","shape":"bar","level":"0.6","lon":232,"lo":8090,"hi":8280},{"panel":"d","shape":"bar","level":"0.6","lon":264.4,"lo":8090,"hi":8280},{"panel":"d","shape":"bar","level":"0.6","lon":295.1,"lo":8100,"hi":8270},{"panel":"d","shape":"bar","level":"0.6","lon":310,"lo":8110,"hi":8260},{"panel":"d","shape":"bar","level":"0.6","lon":312,"lo":8150,"hi":8210},
{"panel":"d","shape":"o","level":"0.7","lon":231,"lo":8150,"hi":8200},{"panel":"d","shape":"o","level":"0.7","lon":250,"lo":8150,"hi":8200},

{"panel":"e","shape":"bar","level":"0.1","lon":44,"lo":40.8,"hi":42.3},{"panel":"e","shape":"bar","level":"0.1","lon":45.5,"lo":39.3,"hi":44.2},{"panel":"e","shape":"bar","level":"0.1","lon":50.2,"lo":38.5,"hi":44.8},{"panel":"e","shape":"bar","level":"0.1","lon":70.2,"lo":38.3,"hi":45.1},{"panel":"e","shape":"bar","level":"0.1","lon":91.7,"lo":38.1,"hi":45},{"panel":"e","shape":"bar","level":"0.1","lon":113.2,"lo":38.1,"hi":44.8},{"panel":"e","shape":"bar","level":"0.1","lon":131.7,"lo":38.3,"hi":45.2},{"panel":"e","shape":"bar","level":"0.1","lon":134.8,"lo":39.8,"hi":43.3},{"panel":"e","shape":"bar","level":"0.1","lon":135.4,"lo":41.3,"hi":41.8},
{"panel":"e","shape":"bar","level":"0.2","lon":45.5,"lo":41,"hi":42.1},{"panel":"e","shape":"bar","level":"0.2","lon":47.5,"lo":39.8,"hi":43.7},{"panel":"e","shape":"bar","level":"0.2","lon":52,"lo":39.1,"hi":44.2},{"panel":"e","shape":"bar","level":"0.2","lon":70.2,"lo":38.9,"hi":44.5},{"panel":"e","shape":"bar","level":"0.2","lon":91.7,"lo":38.7,"hi":44.4},{"panel":"e","shape":"bar","level":"0.2","lon":113.2,"lo":38.7,"hi":44.2},{"panel":"e","shape":"bar","level":"0.2","lon":130.5,"lo":38.9,"hi":44.6},{"panel":"e","shape":"bar","level":"0.2","lon":133.2,"lo":40,"hi":43.2},{"panel":"e","shape":"bar","level":"0.2","lon":134.5,"lo":41.3,"hi":41.8},
{"panel":"e","shape":"bar","level":"0.3","lon":47,"lo":41,"hi":42},{"panel":"e","shape":"bar","level":"0.3","lon":49,"lo":40.2,"hi":43.2},{"panel":"e","shape":"bar","level":"0.3","lon":55,"lo":39.9,"hi":43.6},{"panel":"e","shape":"bar","level":"0.3","lon":70.2,"lo":39.8,"hi":43.7},{"panel":"e","shape":"bar","level":"0.3","lon":91.7,"lo":39.6,"hi":43.6},{"panel":"e","shape":"bar","level":"0.3","lon":113.2,"lo":39.6,"hi":43.5},{"panel":"e","shape":"bar","level":"0.3","lon":129,"lo":39.8,"hi":43.8},{"panel":"e","shape":"bar","level":"0.3","lon":132,"lo":40.3,"hi":43},{"panel":"e","shape":"bar","level":"0.3","lon":133.2,"lo":41.3,"hi":41.8},

{"panel":"f","shape":"bar","level":"0.1","lon":43.4,"lo":40.8,"hi":42.1},{"panel":"f","shape":"bar","level":"0.1","lon":45.3,"lo":39.8,"hi":43.5},{"panel":"f","shape":"bar","level":"0.1","lon":61.3,"lo":39.3,"hi":44},{"panel":"f","shape":"bar","level":"0.1","lon":92,"lo":39.1,"hi":44.1},{"panel":"f","shape":"bar","level":"0.1","lon":122.8,"lo":39.3,"hi":44},{"panel":"f","shape":"bar","level":"0.1","lon":133.6,"lo":39.5,"hi":44},{"panel":"f","shape":"bar","level":"0.1","lon":136.3,"lo":40.8,"hi":42.1},
{"panel":"f","shape":"bar","level":"0.2","lon":44.7,"lo":40.9,"hi":42},{"panel":"f","shape":"bar","level":"0.2","lon":47,"lo":39.7,"hi":43.2},{"panel":"f","shape":"bar","level":"0.2","lon":92,"lo":39.5,"hi":43.7},{"panel":"f","shape":"bar","level":"0.2","lon":132.5,"lo":39.7,"hi":43.6},{"panel":"f","shape":"bar","level":"0.2","lon":135.1,"lo":40.9,"hi":42},
{"panel":"f","shape":"bar","level":"0.3","lon":45.6,"lo":41,"hi":41.9},{"panel":"f","shape":"bar","level":"0.3","lon":48,"lo":39.9,"hi":43},{"panel":"f","shape":"bar","level":"0.3","lon":92,"lo":39.8,"hi":43.4},{"panel":"f","shape":"bar","level":"0.3","lon":131.5,"lo":39.9,"hi":43.3},{"panel":"f","shape":"bar","level":"0.3","lon":134.2,"lo":41,"hi":41.9},
{"panel":"f","shape":"bar","level":"0.4","lon":46.5,"lo":41.1,"hi":41.8},{"panel":"f","shape":"bar","level":"0.4","lon":49,"lo":40.2,"hi":42.9},{"panel":"f","shape":"bar","level":"0.4","lon":92,"lo":40.1,"hi":43.1},{"panel":"f","shape":"bar","level":"0.4","lon":130.5,"lo":40.2,"hi":43},{"panel":"f","shape":"bar","level":"0.4","lon":133.6,"lo":41.1,"hi":41.8},
{"panel":"f","shape":"bar","level":"0.5","lon":47.1,"lo":41.2,"hi":41.7},{"panel":"f","shape":"bar","level":"0.5","lon":50,"lo":40.4,"hi":42.7},{"panel":"f","shape":"bar","level":"0.5","lon":92,"lo":40.4,"hi":42.8},{"panel":"f","shape":"bar","level":"0.5","lon":130,"lo":40.4,"hi":42.8},{"panel":"f","shape":"bar","level":"0.5","lon":133,"lo":41.2,"hi":41.7},
{"panel":"f","shape":"y","level":"0.6","lon":129,"lo":40.8,"hi":42.4},{"panel":"f","shape":"y","level":"0.6","lon":132.7,"lo":40.8,"hi":42.4}
],
"h":[
{"panel":"c","shape":"k","level":"0.1","alt":1965,"west":270.2,"east":273.2},{"panel":"c","shape":"k","level":"0.1","alt":2015,"west":265.5,"east":277.9},{"panel":"c","shape":"k","level":"0.1","alt":2182,"west":257.8,"east":285.5},{"panel":"c","shape":"k","level":"0.1","alt":2382,"west":250.2,"east":290.2},{"panel":"c","shape":"k","level":"0.1","alt":2632,"west":247.1,"east":294.8},{"panel":"c","shape":"k","level":"0.1","alt":2882,"west":243.1,"east":296.3},{"panel":"c","shape":"k","level":"0.1","alt":3216,"west":243.1,"east":296.3},{"panel":"c","shape":"k","level":"0.1","alt":3549,"west":247.1,"east":295.4},{"panel":"c","shape":"k","level":"0.1","alt":4049,"west":248.6,"east":294.8},{"panel":"c","shape":"k","level":"0.1","alt":4383,"west":246.2,"east":296.3},{"panel":"c","shape":"k","level":"0.1","alt":4716,"west":243.1,"east":298.5},{"panel":"c","shape":"k","level":"0.1","alt":5133,"west":241.8,"east":298.5},{"panel":"c","shape":"k","level":"0.1","alt":5466,"west":244,"east":296.9},{"panel":"c","shape":"k","level":"0.1","alt":5716,"west":248.6,"east":294.8},{"panel":"c","shape":"k","level":"0.1","alt":5883,"west":256.3,"east":287.1},{"panel":"c","shape":"k","level":"0.1","alt":5966,"west":265.5,"east":271.7},
{"panel":"c","shape":"k","level":"0.2","alt":2299,"west":276.9,"east":279.4},{"panel":"c","shape":"k","level":"0.2","alt":2465,"west":271.7,"east":282.5},{"panel":"c","shape":"k","level":"0.2","alt":2632,"west":260.9,"east":284},{"panel":"c","shape":"k","level":"0.2","alt":2799,"west":255.7,"east":285.5},{"panel":"c","shape":"k","level":"0.2","alt":3299,"west":257.2,"east":285.5},{"panel":"c","shape":"k","level":"0.2","alt":3716,"west":258.5,"east":282.5},{"panel":"c","shape":"k","level":"0.2","alt":4049,"west":258.5,"east":282.5},{"panel":"c","shape":"k","level":"0.2","alt":4383,"west":257.2,"east":286.2},{"panel":"c","shape":"k","level":"0.2","alt":4716,"west":254.2,"east":288},{"panel":"c","shape":"k","level":"0.2","alt":5133,"west":252.3,"east":288},{"panel":"c","shape":"k","level":"0.2","alt":5633,"west":254.2,"east":286.2},{"panel":"c","shape":"k","level":"0.2","alt":5766,"west":265.5,"east":276.9},
{"panel":"e","shape":"k","level":"0.1","alt":1,"west":77.8,"east":99.1},{"panel":"e","shape":"k","level":"0.1","alt":8,"west":77.8,"east":100.3},{"panel":"e","shape":"k","level":"0.1","alt":10.6,"west":76.9,"east":100.9},{"panel":"e","shape":"k","level":"0.1","alt":12.6,"west":70.2,"east":108.6},{"panel":"e","shape":"k","level":"0.1","alt":15.1,"west":65.5,"east":115.4},{"panel":"e","shape":"k","level":"0.1","alt":21.2,"west":64,"east":116.3},{"panel":"e","shape":"k","level":"0.1","alt":25.2,"west":63.1,"east":116.9},{"panel":"e","shape":"k","level":"0.1","alt":28.7,"west":64,"east":116.3},{"panel":"e","shape":"k","level":"0.1","alt":30.2,"west":70.2,"east":111.7},{"panel":"e","shape":"k","level":"0.1","alt":30.7,"west":82.5,"east":104},
{"panel":"e","shape":"k","level":"0.2","alt":13.6,"west":90.2,"east":96.3},{"panel":"e","shape":"k","level":"0.2","alt":14.1,"west":84,"east":99.4},{"panel":"e","shape":"k","level":"0.2","alt":16.1,"west":79.4,"east":102.5},{"panel":"e","shape":"k","level":"0.2","alt":21.2,"west":76.9,"east":103.4},{"panel":"e","shape":"k","level":"0.2","alt":26.2,"west":74.8,"east":105.5},{"panel":"e","shape":"k","level":"0.2","alt":29.2,"west":77.8,"east":103.4},{"panel":"e","shape":"k","level":"0.2","alt":29.5,"west":82.5,"east":97.8},
{"panel":"f","shape":"k","level":"0.1","alt":10.3,"west":85.9,"east":93.6},{"panel":"f","shape":"k","level":"0.1","alt":11.6,"west":76.7,"east":102.8},{"panel":"f","shape":"k","level":"0.1","alt":13.6,"west":69,"east":112},{"panel":"f","shape":"k","level":"0.1","alt":15.6,"west":61.3,"east":118.8},{"panel":"f","shape":"k","level":"0.1","alt":18.1,"west":62.8,"east":116.7},{"panel":"f","shape":"k","level":"0.1","alt":20.1,"west":69,"east":110.5},{"panel":"f","shape":"k","level":"0.1","alt":21.2,"west":78.2,"east":104.3},{"panel":"f","shape":"k","level":"0.1","alt":22.7,"west":73.6,"east":109},{"panel":"f","shape":"k","level":"0.1","alt":24.7,"west":61.3,"east":118.2},{"panel":"f","shape":"k","level":"0.1","alt":26.2,"west":58.5,"east":121.3},{"panel":"f","shape":"k","level":"0.1","alt":28.2,"west":60.7,"east":118.2},{"panel":"f","shape":"k","level":"0.1","alt":29.4,"west":67.4,"east":111.1},{"panel":"f","shape":"k","level":"0.1","alt":29.7,"west":76.7,"east":104.3},
{"panel":"f","shape":"u","level":"0.2","alt":23.4,"west":89,"east":96.7},{"panel":"f","shape":"u","level":"0.2","alt":24.2,"west":76.7,"east":109},{"panel":"f","shape":"u","level":"0.2","alt":26.2,"west":65.9,"east":116},{"panel":"f","shape":"u","level":"0.2","alt":28.2,"west":70.5,"east":112},{"panel":"f","shape":"u","level":"0.2","alt":29.2,"west":82.8,"east":101.3},
{"panel":"f","shape":"w","level":"0.2","alt":12.8,"west":87.4,"east":96.7},{"panel":"f","shape":"w","level":"0.2","alt":13.6,"west":76.7,"east":102.8},{"panel":"f","shape":"w","level":"0.2","alt":15.6,"west":70.5,"east":109},{"panel":"f","shape":"w","level":"0.2","alt":17.9,"west":72,"east":107.4},{"panel":"f","shape":"w","level":"0.2","alt":18.6,"west":82.8,"east":99.7},
{"panel":"f","shape":"u","level":"0.3","alt":24.7,"west":84.4,"east":99.7},{"panel":"f","shape":"u","level":"0.3","alt":26.2,"west":73.6,"east":106.8},{"panel":"f","shape":"u","level":"0.3","alt":28,"west":82.8,"east":99.7},
{"panel":"f","shape":"u","level":"0.4","alt":25,"west":89,"east":92},{"panel":"f","shape":"u","level":"0.4","alt":26,"west":81.3,"east":98.8},{"panel":"f","shape":"u","level":"0.4","alt":27,"west":87.4,"east":93.6}
],
"bar":[{"level":"-0.1","from":-0.1,"to":0},{"level":"0","from":0,"to":0.1},{"level":"0.1","from":0.1,"to":0.2},{"level":"0.2","from":0.2,"to":0.3},{"level":"0.3","from":0.3,"to":0.4},{"level":"0.4","from":0.4,"to":0.5},{"level":"0.5","from":0.5,"to":0.6},{"level":"0.6","from":0.6,"to":0.7},{"level":"0.7","from":0.7,"to":0.8},{"level":"0.8","from":0.8,"to":0.9},{"level":"0.9","from":0.9,"to":1},{"level":"1","from":1,"to":1.1}]
},
"vconcat":[
{"spacing":41.75,"vconcat":[
{"hconcat":[
{"width":390,"height":195,"title":{"text":"CAM-FV Model Levels"},"layer":[
{"data":{"name":"v"},"transform":[{"filter":"datum.panel=='a'"}],"mark":{"type":"area","orient":"vertical","interpolate":"monotone","clip":true,"strokeWidth":2},"encoding":{"x":{"field":"lon","type":"quantitative","scale":{"domain":[0,360],"nice":false},"axis":{"orient":"bottom","values":[0,60,120,180,240,300,360],"tickSize":10,"tickWidth":2,"labelExpr":"{0:'0',60:'60E',120:'120E',180:'180',240:'120W',300:'60W',360:''}[datum.value]"}},"y":{"field":"lo","type":"quantitative","scale":{"domain":[1,60],"nice":false,"zero":false},"axis":{"orient":"left","values":[10,20,30,40,50,60],"tickSize":10,"tickWidth":2}},"y2":{"field":"hi"},"detail":{"field":"shape"},"stroke":{"field":"level","type":"nominal","legend":null,"scale":{"domain":["terrain","0.1","0.2","0.3","0.4","0.5","0.6","0.7"],"range":["#000000","#621890","#4848FF","#00C8FF","#00FF48","#B4E000","#FFFF00","#FFB400"]}},"color":{"field":"level","type":"nominal","legend":null,"scale":{"domain":["terrain","0.1","0.2","0.3","0.4","0.5","0.6","0.7"],"range":["#000000","#621890","#4848FF","#00C8FF","#00FF48","#B4E000","#FFFF00","#FFB400"]}}}},
{"data":{"name":"h"},"transform":[{"filter":"datum.panel=='a'"}],"mark":{"type":"point","opacity":0},"encoding":{"x":{"field":"west","type":"quantitative","axis":{"orient":"bottom","values":[30,90,150,210,270,330],"tickSize":5,"tickWidth":1.5,"labels":false}},"y":{"field":"alt","type":"quantitative","axis":{"orient":"left","values":[2,4,6,8,12,14,16,18,22,24,26,28,32,34,36,38,42,44,46,48,52,54,56,58],"tickSize":5,"tickWidth":1.5,"labels":false}}}},
{"data":{"name":"h"},"transform":[{"filter":"datum.panel=='a'"}],"mark":{"type":"point","opacity":0},"encoding":{"x":{"field":"west","type":"quantitative","axis":{"orient":"top","values":[0,60,120,180,240,300,360],"tickSize":10,"tickWidth":2,"labels":false}},"y":{"field":"alt","type":"quantitative","axis":{"orient":"right","values":[10,20,30,40,50,60],"tickSize":10,"tickWidth":2,"labels":false}}}},
{"data":{"name":"h"},"transform":[{"filter":"datum.panel=='a'"}],"mark":{"type":"point","opacity":0},"encoding":{"x":{"field":"west","type":"quantitative","axis":{"orient":"top","values":[30,90,150,210,270,330],"tickSize":5,"tickWidth":1.5,"labels":false}},"y":{"field":"alt","type":"quantitative","axis":{"orient":"right","values":[2,4,6,8,12,14,16,18,22,24,26,28,32,34,36,38,42,44,46,48,52,54,56,58],"tickSize":5,"tickWidth":1.5,"labels":false}}}}
],"resolve":{"axis":{"x":"independent","y":"independent"}}},
{"width":390,"height":195,"title":{"text":"MCore Model Levels"},"layer":[
{"data":{"name":"v"},"transform":[{"filter":"datum.panel=='b'"}],"mark":{"type":"area","orient":"vertical","interpolate":"monotone","clip":true,"strokeWidth":2},"encoding":{"x":{"field":"lon","type":"quantitative","scale":{"domain":[0,360],"nice":false},"axis":{"orient":"bottom","values":[0,60,120,180,240,300,360],"tickSize":10,"tickWidth":2,"labelExpr":"{0:'',60:'60E',120:'120E',180:'180',240:'120W',300:'60W',360:''}[datum.value]"}},"y":{"field":"lo","type":"quantitative","scale":{"domain":[1,60],"nice":false,"zero":false},"axis":{"orient":"left","values":[10,20,30,40,50,60],"tickSize":10,"tickWidth":2}},"y2":{"field":"hi"},"detail":{"field":"shape"},"stroke":{"field":"level","type":"nominal","legend":null,"scale":{"domain":["terrain","0.1","0.2","0.3","0.4","0.5","0.6","0.7"],"range":["#000000","#621890","#4848FF","#00C8FF","#00FF48","#B4E000","#FFFF00","#FFB400"]}},"color":{"field":"level","type":"nominal","legend":null,"scale":{"domain":["terrain","0.1","0.2","0.3","0.4","0.5","0.6","0.7"],"range":["#000000","#621890","#4848FF","#00C8FF","#00FF48","#B4E000","#FFFF00","#FFB400"]}}}},
{"data":{"name":"h"},"transform":[{"filter":"datum.panel=='b'"}],"mark":{"type":"point","opacity":0},"encoding":{"x":{"field":"west","type":"quantitative","axis":{"orient":"bottom","values":[30,90,150,210,270,330],"tickSize":5,"tickWidth":1.5,"labels":false}},"y":{"field":"alt","type":"quantitative","axis":{"orient":"left","values":[2,4,6,8,12,14,16,18,22,24,26,28,32,34,36,38,42,44,46,48,52,54,56,58],"tickSize":5,"tickWidth":1.5,"labels":false}}}},
{"data":{"name":"h"},"transform":[{"filter":"datum.panel=='b'"}],"mark":{"type":"point","opacity":0},"encoding":{"x":{"field":"west","type":"quantitative","axis":{"orient":"top","values":[0,60,120,180,240,300,360],"tickSize":10,"tickWidth":2,"labels":false}},"y":{"field":"alt","type":"quantitative","axis":{"orient":"right","values":[10,20,30,40,50,60],"tickSize":10,"tickWidth":2,"labels":false}}}},
{"data":{"name":"h"},"transform":[{"filter":"datum.panel=='b'"}],"mark":{"type":"point","opacity":0},"encoding":{"x":{"field":"west","type":"quantitative","axis":{"orient":"top","values":[30,90,150,210,270,330],"tickSize":5,"tickWidth":1.5,"labels":false}},"y":{"field":"alt","type":"quantitative","axis":{"orient":"right","values":[2,4,6,8,12,14,16,18,22,24,26,28,32,34,36,38,42,44,46,48,52,54,56,58],"tickSize":5,"tickWidth":1.5,"labels":false}}}}
],"resolve":{"axis":{"x":"independent","y":"independent"}}}
],"spacing":73,"bounds":"flush"},
{"hconcat":[
{"width":390,"height":196,"title":{"text":"CAM-FV Height Levels (m)"},"layer":[
{"data":{"name":"v"},"transform":[{"filter":"datum.panel=='c'"}],"mark":{"type":"area","orient":"vertical","interpolate":"monotone","clip":true,"strokeWidth":1},"encoding":{"x":{"field":"lon","type":"quantitative","scale":{"domain":[0,360],"nice":false},"axis":{"orient":"bottom","values":[0,60,120,180,240,300,360],"tickSize":10,"tickWidth":2,"labelExpr":"{0:'0',60:'60E',120:'120E',180:'180',240:'120W',300:'60W',360:''}[datum.value]"}},"y":{"field":"lo","type":"quantitative","scale":{"domain":[200,10000],"nice":false,"zero":false},"axis":{"orient":"left","values":[2000,4000,6000,8000,10000],"format":"d","tickSize":10,"tickWidth":2}},"y2":{"field":"hi"},"detail":{"field":"shape"},"stroke":{"field":"level","type":"nominal","legend":null,"scale":{"domain":["terrain","0.1","0.2","0.3","0.4","0.5","0.6","0.7"],"range":["#000000","#621890","#4848FF","#00C8FF","#00FF48","#B4E000","#FFFF00","#FFB400"]}},"color":{"field":"level","type":"nominal","legend":null,"scale":{"domain":["terrain","0.1","0.2","0.3","0.4","0.5","0.6","0.7"],"range":["#000000","#621890","#4848FF","#00C8FF","#00FF48","#B4E000","#FFFF00","#FFB400"]}}}},
{"data":{"name":"h"},"transform":[{"filter":"datum.panel=='c'"}],"mark":{"type":"area","orient":"horizontal","interpolate":"monotone","clip":true},"encoding":{"x":{"field":"west","type":"quantitative","axis":{"orient":"bottom","values":[30,90,150,210,270,330],"tickSize":5,"tickWidth":1.5,"labels":false}},"x2":{"field":"east"},"y":{"field":"alt","type":"quantitative","axis":{"orient":"left","values":[500,1000,1500,2500,3000,3500,4500,5000,5500,6500,7000,7500,8500,9000,9500],"tickSize":5,"tickWidth":1.5,"labels":false}},"detail":{"field":"shape"},"color":{"field":"level","type":"nominal","legend":null,"scale":{"domain":["terrain","0.1","0.2","0.3","0.4","0.5","0.6","0.7"],"range":["#000000","#621890","#4848FF","#00C8FF","#00FF48","#B4E000","#FFFF00","#FFB400"]}}}},
{"data":{"name":"h"},"transform":[{"filter":"datum.panel=='c'"}],"mark":{"type":"point","opacity":0},"encoding":{"x":{"field":"west","type":"quantitative","axis":{"orient":"top","values":[0,60,120,180,240,300,360],"tickSize":10,"tickWidth":2,"labels":false}},"y":{"field":"alt","type":"quantitative","axis":{"orient":"right","values":[2000,4000,6000,8000,10000],"tickSize":10,"tickWidth":2,"labels":false}}}},
{"data":{"name":"h"},"transform":[{"filter":"datum.panel=='c'"}],"mark":{"type":"point","opacity":0},"encoding":{"x":{"field":"west","type":"quantitative","axis":{"orient":"top","values":[30,90,150,210,270,330],"tickSize":5,"tickWidth":1.5,"labels":false}},"y":{"field":"alt","type":"quantitative","axis":{"orient":"right","values":[500,1000,1500,2500,3000,3500,4500,5000,5500,6500,7000,7500,8500,9000,9500],"tickSize":5,"tickWidth":1.5,"labels":false}}}}
],"resolve":{"axis":{"x":"independent","y":"independent"}}},
{"width":390,"height":196,"title":{"text":"MCore Height Levels (m)"},"layer":[
{"data":{"name":"v"},"transform":[{"filter":"datum.panel=='d'"}],"mark":{"type":"area","orient":"vertical","interpolate":"monotone","clip":true,"strokeWidth":1},"encoding":{"x":{"field":"lon","type":"quantitative","scale":{"domain":[0,360],"nice":false},"axis":{"orient":"bottom","values":[0,60,120,180,240,300,360],"tickSize":10,"tickWidth":2,"labelExpr":"{0:'',60:'60E',120:'120E',180:'180',240:'120W',300:'60W',360:''}[datum.value]"}},"y":{"field":"lo","type":"quantitative","scale":{"domain":[200,10000],"nice":false,"zero":false},"axis":{"orient":"left","values":[2000,4000,6000,8000,10000],"format":"d","tickSize":10,"tickWidth":2}},"y2":{"field":"hi"},"detail":{"field":"shape"},"stroke":{"field":"level","type":"nominal","legend":null,"scale":{"domain":["terrain","0.1","0.2","0.3","0.4","0.5","0.6","0.7"],"range":["#000000","#621890","#4848FF","#00C8FF","#00FF48","#B4E000","#FFFF00","#FFB400"]}},"color":{"field":"level","type":"nominal","legend":null,"scale":{"domain":["terrain","0.1","0.2","0.3","0.4","0.5","0.6","0.7"],"range":["#000000","#621890","#4848FF","#00C8FF","#00FF48","#B4E000","#FFFF00","#FFB400"]}}}},
{"data":{"name":"h"},"transform":[{"filter":"datum.panel=='d'"}],"mark":{"type":"point","opacity":0},"encoding":{"x":{"field":"west","type":"quantitative","axis":{"orient":"bottom","values":[30,90,150,210,270,330],"tickSize":5,"tickWidth":1.5,"labels":false}},"y":{"field":"alt","type":"quantitative","axis":{"orient":"left","values":[500,1000,1500,2500,3000,3500,4500,5000,5500,6500,7000,7500,8500,9000,9500],"tickSize":5,"tickWidth":1.5,"labels":false}}}},
{"data":{"name":"h"},"transform":[{"filter":"datum.panel=='d'"}],"mark":{"type":"point","opacity":0},"encoding":{"x":{"field":"west","type":"quantitative","axis":{"orient":"top","values":[0,60,120,180,240,300,360],"tickSize":10,"tickWidth":2,"labels":false}},"y":{"field":"alt","type":"quantitative","axis":{"orient":"right","values":[2000,4000,6000,8000,10000],"tickSize":10,"tickWidth":2,"labels":false}}}},
{"data":{"name":"h"},"transform":[{"filter":"datum.panel=='d'"}],"mark":{"type":"point","opacity":0},"encoding":{"x":{"field":"west","type":"quantitative","axis":{"orient":"top","values":[30,90,150,210,270,330],"tickSize":5,"tickWidth":1.5,"labels":false}},"y":{"field":"alt","type":"quantitative","axis":{"orient":"right","values":[500,1000,1500,2500,3000,3500,4500,5000,5500,6500,7000,7500,8500,9000,9500],"tickSize":5,"tickWidth":1.5,"labels":false}}}}
],"resolve":{"axis":{"x":"independent","y":"independent"}}}
],"spacing":73,"bounds":"flush"},
{"hconcat":[
{"width":390,"height":195,"title":{"text":"CAM-FV t = 12 days"},"layer":[
{"data":{"name":"v"},"transform":[{"filter":"datum.panel=='e'"}],"mark":{"type":"area","orient":"vertical","interpolate":"monotone","clip":true},"encoding":{"x":{"field":"lon","type":"quantitative","scale":{"domain":[0,360],"nice":false},"axis":{"orient":"bottom","values":[0,60,120,180,240,300,360],"tickSize":10,"tickWidth":2,"labelExpr":"{0:'0',60:'60E',120:'120E',180:'180',240:'120W',300:'60W',360:''}[datum.value]"}},"y":{"field":"lo","type":"quantitative","scale":{"domain":[1,60],"nice":false,"zero":false},"axis":{"orient":"left","values":[10,20,30,40,50,60],"tickSize":10,"tickWidth":2}},"y2":{"field":"hi"},"detail":{"field":"shape"},"color":{"field":"level","type":"nominal","legend":null,"scale":{"domain":["terrain","0.1","0.2","0.3","0.4","0.5","0.6","0.7"],"range":["#000000","#621890","#4848FF","#00C8FF","#00FF48","#B4E000","#FFFF00","#FFB400"]}}}},
{"data":{"name":"h"},"transform":[{"filter":"datum.panel=='e'"}],"mark":{"type":"area","orient":"horizontal","interpolate":"monotone","clip":true},"encoding":{"x":{"field":"west","type":"quantitative","axis":{"orient":"bottom","values":[30,90,150,210,270,330],"tickSize":5,"tickWidth":1.5,"labels":false}},"x2":{"field":"east"},"y":{"field":"alt","type":"quantitative","axis":{"orient":"left","values":[2,4,6,8,12,14,16,18,22,24,26,28,32,34,36,38,42,44,46,48,52,54,56,58],"tickSize":5,"tickWidth":1.5,"labels":false}},"detail":{"field":"shape"},"color":{"field":"level","type":"nominal","legend":null,"scale":{"domain":["terrain","0.1","0.2","0.3","0.4","0.5","0.6","0.7"],"range":["#000000","#621890","#4848FF","#00C8FF","#00FF48","#B4E000","#FFFF00","#FFB400"]}}}},
{"data":{"name":"h"},"transform":[{"filter":"datum.panel=='e'"}],"mark":{"type":"point","opacity":0},"encoding":{"x":{"field":"west","type":"quantitative","axis":{"orient":"top","values":[0,60,120,180,240,300,360],"tickSize":10,"tickWidth":2,"labels":false}},"y":{"field":"alt","type":"quantitative","axis":{"orient":"right","values":[10,20,30,40,50,60],"tickSize":10,"tickWidth":2,"labels":false}}}},
{"data":{"name":"h"},"transform":[{"filter":"datum.panel=='e'"}],"mark":{"type":"point","opacity":0},"encoding":{"x":{"field":"west","type":"quantitative","axis":{"orient":"top","values":[30,90,150,210,270,330],"tickSize":5,"tickWidth":1.5,"labels":false}},"y":{"field":"alt","type":"quantitative","axis":{"orient":"right","values":[2,4,6,8,12,14,16,18,22,24,26,28,32,34,36,38,42,44,46,48,52,54,56,58],"tickSize":5,"tickWidth":1.5,"labels":false}}}}
],"resolve":{"axis":{"x":"independent","y":"independent"}}},
{"width":390,"height":195,"title":{"text":"MCore t = 12 days"},"layer":[
{"data":{"name":"v"},"transform":[{"filter":"datum.panel=='f'"}],"mark":{"type":"area","orient":"vertical","interpolate":"monotone","clip":true},"encoding":{"x":{"field":"lon","type":"quantitative","scale":{"domain":[0,360],"nice":false},"axis":{"orient":"bottom","values":[0,60,120,180,240,300,360],"tickSize":10,"tickWidth":2,"labelExpr":"{0:'',60:'60E',120:'120E',180:'180',240:'120W',300:'60W',360:''}[datum.value]"}},"y":{"field":"lo","type":"quantitative","scale":{"domain":[1,60],"nice":false,"zero":false},"axis":{"orient":"left","values":[10,20,30,40,50,60],"tickSize":10,"tickWidth":2}},"y2":{"field":"hi"},"detail":{"field":"shape"},"color":{"field":"level","type":"nominal","legend":null,"scale":{"domain":["terrain","0.1","0.2","0.3","0.4","0.5","0.6","0.7"],"range":["#000000","#621890","#4848FF","#00C8FF","#00FF48","#B4E000","#FFFF00","#FFB400"]}}}},
{"data":{"name":"h"},"transform":[{"filter":"datum.panel=='f'"}],"mark":{"type":"area","orient":"horizontal","interpolate":"monotone","clip":true},"encoding":{"x":{"field":"west","type":"quantitative","axis":{"orient":"bottom","values":[30,90,150,210,270,330],"tickSize":5,"tickWidth":1.5,"labels":false}},"x2":{"field":"east"},"y":{"field":"alt","type":"quantitative","axis":{"orient":"left","values":[2,4,6,8,12,14,16,18,22,24,26,28,32,34,36,38,42,44,46,48,52,54,56,58],"tickSize":5,"tickWidth":1.5,"labels":false}},"detail":{"field":"shape"},"color":{"field":"level","type":"nominal","legend":null,"scale":{"domain":["terrain","0.1","0.2","0.3","0.4","0.5","0.6","0.7"],"range":["#000000","#621890","#4848FF","#00C8FF","#00FF48","#B4E000","#FFFF00","#FFB400"]}}}},
{"data":{"name":"h"},"transform":[{"filter":"datum.panel=='f'"}],"mark":{"type":"point","opacity":0},"encoding":{"x":{"field":"west","type":"quantitative","axis":{"orient":"top","values":[0,60,120,180,240,300,360],"tickSize":10,"tickWidth":2,"labels":false}},"y":{"field":"alt","type":"quantitative","axis":{"orient":"right","values":[10,20,30,40,50,60],"tickSize":10,"tickWidth":2,"labels":false}}}},
{"data":{"name":"h"},"transform":[{"filter":"datum.panel=='f'"}],"mark":{"type":"point","opacity":0},"encoding":{"x":{"field":"west","type":"quantitative","axis":{"orient":"top","values":[30,90,150,210,270,330],"tickSize":5,"tickWidth":1.5,"labels":false}},"y":{"field":"alt","type":"quantitative","axis":{"orient":"right","values":[2,4,6,8,12,14,16,18,22,24,26,28,32,34,36,38,42,44,46,48,52,54,56,58],"tickSize":5,"tickWidth":1.5,"labels":false}}}}
],"resolve":{"axis":{"x":"independent","y":"independent"}}}
],"spacing":73,"bounds":"flush"}
]},
{"width":853,"height":20,"view":{"fill":null,"stroke":null},"title":{"text":"Longitude","fontSize":28,"offset":11},"data":{"name":"bar"},"mark":{"type":"rect","stroke":"black","strokeWidth":1.5},"encoding":{"x":{"field":"from","type":"quantitative","scale":{"domain":[-0.5622,1.6777],"nice":false,"zero":false},"axis":{"values":[0,0.1,0.2,0.3,0.4,0.5,0.6,0.7,0.8,0.9,1],"format":"~g","domain":false,"ticks":false,"labelFontSize":11,"labelPadding":4}},"x2":{"field":"to"},"color":{"field":"level","type":"nominal","legend":null,"scale":{"domain":["-0.1","0","0.1","0.2","0.3","0.4","0.5","0.6","0.7","0.8","0.9","1"],"range":["#F0EBF5","#BC97CE","#621890","#4848FF","#00C8FF","#00FF48","#B4E000","#FFFF00","#FFB400","#FF6600","#FF0000","#8C0000"]}}}}
]}
